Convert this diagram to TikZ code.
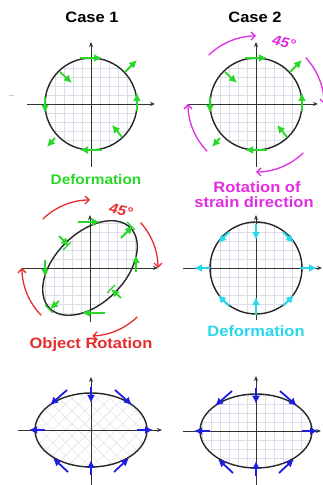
\documentclass[tikz,border=0pt]{standalone}
\usepackage{fontspec}
\setmainfont{Liberation Sans}[FakeStretch=1.1]
\usetikzlibrary{arrows.meta}
\definecolor{dgreen}{RGB}{40,215,40}
\definecolor{mag}{RGB}{225,45,225}
\definecolor{rred}{RGB}{228,45,45}
\definecolor{cyn}{RGB}{40,215,235}
\definecolor{bblue}{RGB}{30,30,225}
\definecolor{gridc}{RGB}{218,222,232}
\begin{document}
\begin{tikzpicture}[x=1pt,y=1pt,
  axisln/.style={line width=0.9pt,draw=black!80},
  axtip/.style={axisln,-{Stealth[length=5pt,width=4pt]}},
  rim/.style={line width=1.4pt,draw=black!85},
  gridln/.style={draw=gridc,line width=0.4pt},
  vec/.style={line width=1.8pt,-{Latex[length=8pt,width=8pt]}},
  gvec/.style={vec,draw=dgreen,fill=dgreen},
  cvec/.style={vec,draw=cyn,fill=cyn},
  bvec/.style={vec,draw=bblue,fill=bblue},
  rotarc/.style={line width=1.3pt,-{Straight Barb[length=4pt,width=8pt]}},
  lbl/.style={anchor=base,inner sep=0pt,font=\bfseries\fontsize{15}{15}\selectfont}
]
\useasboundingbox (0,0) rectangle (322,485);

\coordinate (c1) at (91,381);
\coordinate (c2) at (256,381);
\coordinate (c3) at (90,217);
\coordinate (c4) at (256,217);
\coordinate (c5) at (91,55);
\coordinate (c6) at (256,54);

\draw[gray!40,line width=0.8pt] (9,390) -- (14,390);

% row 1, case 1
\begin{scope}[shift={(c1)}]
\begin{scope}
\clip (0,0) circle (46);
\draw[gridln,step=9] (-54,-54) grid (54,54);
\end{scope}
\draw[axtip] (-64,0) -- (64,0);
\draw[axtip] (0,-63) -- (0,62);
\draw[rim] (0,0) circle (46);
\draw[gvec] (-11,46) -- (11,46);
\draw[gvec] (46,-7) -- (46,11);
\draw[gvec] (11,-46) -- (-11,-46);
\draw[gvec] (-46,7) -- (-46,-9);
\draw[gvec] (34,32) -- (46,44);
\draw[gvec] (-31,32) -- (-19,21);
\draw[gvec] (31,-33) -- (21,-21);
\draw[gvec] (-36,-34) -- (-44,-43);
\end{scope}

% row 1, case 2
\begin{scope}[shift={(c2)}]
\begin{scope}
\clip (0,0) circle (46);
\draw[gridln,step=9] (-54,-54) grid (54,54);
\end{scope}
\draw[axtip] (-68,0) -- (62,0);
\draw[axtip] (0,-63) -- (0,62);
\draw[rim] (0,0) circle (46);
\draw[gvec] (-11,46) -- (11,46);
\draw[gvec] (46,-7) -- (46,11);
\draw[gvec] (11,-46) -- (-11,-46);
\draw[gvec] (-46,7) -- (-46,-9);
\draw[gvec] (34,32) -- (46,44);
\draw[gvec] (-31,32) -- (-19,21);
\draw[gvec] (31,-33) -- (21,-21);
\draw[gvec] (-36,-34) -- (-44,-43);
\draw[rotarc,mag] (134:68) arc[start angle=134,end angle=90,radius=68];
\draw[rotarc,mag] (43:68) arc[start angle=43,end angle=0,radius=68];
\draw[rotarc,mag] (-46:68) arc[start angle=-46,end angle=-90,radius=68];
\draw[rotarc,mag] (224:68) arc[start angle=224,end angle=180,radius=68];
\node[lbl,text=mag,rotate=-12,font=\bfseries\itshape\fontsize{14}{14}\selectfont] (deg2) at (27,57) {45°};
\end{scope}

% row 2, case 1
\begin{scope}[shift={(c3)}]
\begin{scope}
\clip[rotate=45] (0,0) ellipse [x radius=57,y radius=35];
\draw[gridln,step=9] (-63,-63) grid (63,63);
\end{scope}
\draw[axtip] (-68,0) -- (68,0);
\draw[axtip] (0,-54) -- (0,53);
\draw[rim,rotate=45] (0,0) ellipse [x radius=57,y radius=35];
\draw[gvec] (-12,46) -- (10,46);
\draw[gvec] (46,-4) -- (46,13);
\draw[gvec] (-45,8) -- (-45,-9);
\draw[gvec] (15,-45) -- (-8,-45);
\draw[gvec] (31,30) -- (43,42);
\draw[gvec] (-31,32) -- (-21,22);
\draw[gvec] (31,-30) -- (21,-21);
\draw[gvec] (-31,-33) -- (-40,-41);
\draw[dgreen,line width=1.2pt] (37,46) -- (45,38);
\draw[dgreen,line width=1.2pt] (-27,18) -- (-19,26);
\draw[dgreen,line width=1.2pt] (17,-25) -- (25,-17);
\draw[dgreen,line width=1.2pt] (-45,-37) -- (-37,-45);
\draw[rotarc,rred] (134:68) arc[start angle=134,end angle=90,radius=68];
\draw[rotarc,rred] (42:68) arc[start angle=42,end angle=0,radius=68];
\draw[rotarc,rred] (-46:68) arc[start angle=-46,end angle=-88,radius=68];
\draw[rotarc,rred] (224:68) arc[start angle=224,end angle=180,radius=68];
\node[lbl,text=rred,rotate=-12,font=\bfseries\itshape\fontsize{14}{14}\selectfont] (deg1) at (30,53) {45°};
\end{scope}

% row 2, case 2
\begin{scope}[shift={(c4)}]
\begin{scope}
\clip (0,0) circle (46);
\draw[gridln,step=9] (-54,-54) grid (54,54);
\end{scope}
\draw[axtip] (-73,0) -- (66,0);
\draw[axtip] (0,-52) -- (0,53);
\draw[rim] (0,0) circle (46);
\draw[cvec] (0,44) -- (0,28);
\draw[cvec] (0,-47) -- (0,-29);
\draw[cvec] (44,0) -- (61,0);
\draw[cvec] (-46,0) -- (-62,0);
\draw[cvec] (27,36) -- (38,25);
\draw[cvec] (-27,36) -- (-38,25);
\draw[cvec] (-27,-38) -- (-38,-27);
\draw[cvec] (27,-38) -- (38,-27);
\end{scope}

% row 3, case 1
\begin{scope}[shift={(c5)}]
\begin{scope}
\clip (0,0) ellipse [x radius=56,y radius=37];
\draw[gridln,step=9,rotate=45] (-72,-72) grid (72,72);
\end{scope}
\draw[axtip] (-73,0) -- (71,0);
\draw[axtip] (0,-55) -- (0,53);
\draw[rim] (0,0) ellipse [x radius=56,y radius=37];
\draw[bvec] (0,43) -- (0,27);
\draw[bvec] (0,-45) -- (0,-30);
\draw[bvec] (46,0) -- (62,0);
\draw[bvec] (-46,0) -- (-62,0);
\draw[bvec] (24,40) -- (41,25);
\draw[bvec] (-24,40) -- (-41,25);
\draw[bvec] (-23,-42) -- (-38,-28);
\draw[bvec] (23,-42) -- (38,-28);
\end{scope}

% row 3, case 2
\begin{scope}[shift={(c6)}]
\begin{scope}
\clip (0,0) ellipse [x radius=56,y radius=37];
\draw[gridln,step=9] (-63,-63) grid (63,63);
\end{scope}
\draw[axtip] (-73,0) -- (65,0);
\draw[axtip] (0,-56) -- (0,55);
\draw[rim] (0,0) ellipse [x radius=56,y radius=37];
\draw[bvec] (0,43) -- (0,27);
\draw[bvec] (0,-45) -- (0,-30);
\draw[bvec] (46,0) -- (62,0);
\draw[bvec] (-46,0) -- (-62,0);
\draw[bvec] (24,40) -- (41,25);
\draw[bvec] (-24,40) -- (-41,25);
\draw[bvec] (-23,-42) -- (-38,-28);
\draw[bvec] (23,-42) -- (38,-28);
\end{scope}

\node[lbl] (case1) at (92,462) {Case 1};
\node[lbl] (case2) at (255,462) {Case 2};
\node[lbl,text=dgreen,font=\bfseries\fontsize{14}{14}\selectfont] (def1) at (96,300) {Deformation};
\node[lbl,text=mag] (rot1) at (257,292) {Rotation of};
\node[lbl,text=mag] (rot2) at (254,277) {strain direction};
\node[lbl,text=rred] (objrot) at (91,136) {Object Rotation};
\node[lbl,text=cyn] (def2) at (256,148) {Deformation};
\end{tikzpicture}
\end{document}
